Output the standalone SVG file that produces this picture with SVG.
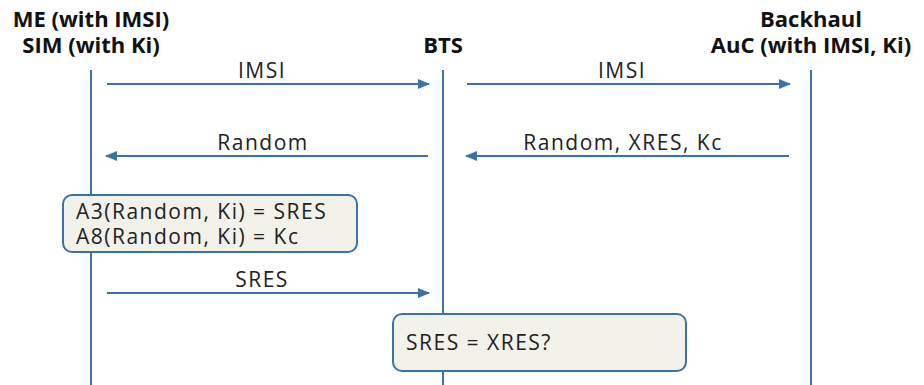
<svg xmlns="http://www.w3.org/2000/svg" width="924" height="385" viewBox="0 0 924 385">
<defs>
<marker id="ah" markerWidth="12" markerHeight="10" refX="11" refY="5" orient="auto" markerUnits="userSpaceOnUse">
<path d="M0,0 L12,5 L0,10 z" fill="#3a73a6"/>
</marker>
<style>
.hd{font-family:"Open Sans","Liberation Sans",sans-serif;font-weight:bold;font-size:22px;fill:#111;text-anchor:middle}
.lb{font-family:"Open Sans","Liberation Sans",sans-serif;font-size:21px;letter-spacing:1.5px;fill:#222;text-anchor:middle}
.bt{font-family:"Open Sans","Liberation Sans",sans-serif;font-size:21px;letter-spacing:1.5px;fill:#222}
.life{stroke:#3a73a6;stroke-width:2;fill:none}
.msg{stroke:#3a73a6;stroke-width:2;fill:none;marker-end:url(#ah)}
.box{fill:#f2f1ea;stroke:#3a73a6;stroke-width:2}
</style>
</defs>
<rect width="924" height="385" fill="#fff"/>
<g id="me">
<text class="hd" x="91" y="27">ME (with IMSI)</text>
<text class="hd" x="91" y="53">SIM (with Ki)</text>
<line class="life" x1="91" y1="70" x2="91" y2="385"/>
</g>
<g id="bts">
<text class="hd" x="443" y="53">BTS</text>
<line class="life" x1="443" y1="70" x2="443" y2="385"/>
</g>
<g id="auc">
<text class="hd" x="811" y="27">Backhaul</text>
<text class="hd" x="811" y="53">AuC (with IMSI, Ki)</text>
<line class="life" x1="811" y1="70" x2="811" y2="385"/>
</g>
<g id="connectors">
<line class="msg" x1="107" y1="84" x2="429" y2="84"/>
<text class="lb" x="262" y="78">IMSI</text>
<line class="msg" x1="467" y1="84" x2="790" y2="84"/>
<text class="lb" x="622" y="78">IMSI</text>
<line class="msg" x1="428" y1="156" x2="106" y2="156"/>
<text class="lb" x="263" y="150">Random</text>
<line class="msg" x1="789" y1="156" x2="466" y2="156"/>
<text class="lb" x="623" y="150">Random, XRES, Kc</text>
<line class="msg" x1="107" y1="293" x2="429" y2="293"/>
<text class="lb" x="262" y="287">SRES</text>
</g>
<g id="calc">
<rect class="box" x="63" y="195" width="294" height="57" rx="9"/>
<text class="bt" x="76" y="219">A3(Random, Ki) = SRES</text>
<text class="bt" x="76" y="244">A8(Random, Ki) = Kc</text>
</g>
<g id="check">
<rect class="box" x="393" y="314" width="293" height="57" rx="9"/>
<text class="bt" x="406" y="350">SRES = XRES?</text>
</g>
</svg>
